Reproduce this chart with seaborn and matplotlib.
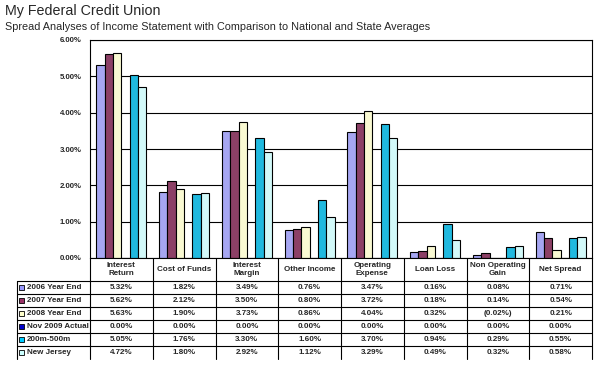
import numpy as np
import pandas as pd
import matplotlib
matplotlib.use('Agg')
import matplotlib.pyplot as plt
from matplotlib.lines import Line2D
from matplotlib.patches import Rectangle
import seaborn as sns

# =============================================================================
# DATA (percent values)
# =============================================================================
categories = ['Interest\nReturn', 'Cost of Funds', 'Interest\nMargin', 'Other Income',
              'Operating\nExpense', 'Loan Loss', 'Non Operating\nGain', 'Net Spread']
series_names = ['2006 Year End', '2007 Year End', '2008 Year End',
                'Nov 2009 Actual', '200m-500m', 'New Jersey']
year_2006 = [5.32, 1.82, 3.49, 0.76, 3.47, 0.16, 0.08, 0.71]
year_2007 = [5.62, 2.12, 3.50, 0.80, 3.72, 0.18, 0.14, 0.54]
year_2008 = [5.63, 1.90, 3.73, 0.86, 4.04, 0.32, -0.02, 0.21]
nov_2009 = [0.00, 0.00, 0.00, 0.00, 0.00, 0.00, 0.00, 0.00]
peer_200m_500m = [5.05, 1.76, 3.30, 1.60, 3.70, 0.94, 0.29, 0.55]
new_jersey = [4.72, 1.80, 2.92, 1.12, 3.29, 0.49, 0.32, 0.58]
series_colors = ['#9999FF', '#993366', '#FFFFCC', '#0000CC', '#00CCFF', '#CCFFFF']

all_series = [year_2006, year_2007, year_2008, nov_2009, peer_200m_500m, new_jersey]
df = pd.DataFrame([
    {'Category': cat, 'Series': name, 'Value': val}
    for name, values in zip(series_names, all_series)
    for cat, val in zip(categories, values)
])

# =============================================================================
# FIGURE
# =============================================================================
sns.set_style('white')
plt.rcParams['font.family'] = ['Liberation Sans', 'DejaVu Sans']

W, H = 602, 370
fig = plt.figure(figsize=(W / 100, H / 100), dpi=100)
ax_left, ax_right, ax_top, ax_bottom = 90, 592, 40, 258
ax = fig.add_axes([ax_left / W, 1 - ax_bottom / H, (ax_right - ax_left) / W,
                   (ax_bottom - ax_top) / H])

sns.barplot(data=df, x='Category', y='Value', hue='Series', order=categories,
            hue_order=series_names, palette=series_colors, edgecolor='black',
            linewidth=0.8, width=0.8, ax=ax, legend=False)

ax.set_xlim(-0.5, len(categories) - 0.5)
ax.set_ylim(0, 6)
ax.set_yticks(np.arange(0, 7))
ax.set_yticklabels([f'{v:.2f}%' for v in range(7)], fontsize=5.6, fontweight='bold')
ax.tick_params(axis='y', length=0, pad=6)
ax.set_xticks([])
ax.set_xlabel('')
ax.set_ylabel('')
ax.yaxis.grid(True, color='black', linewidth=0.8)
ax.set_axisbelow(True)
for sp in ax.spines.values():
    sp.set_color('black')
    sp.set_linewidth(0.8)

# =============================================================================
# DATA TABLE BELOW THE CHART
# =============================================================================
ax_h = ax_bottom - ax_top
ax_w = ax_right - ax_left


def ypx(y):
    return (ax_bottom - y) / ax_h


def xpx(x):
    return (x - ax_left) / ax_w


xtrans = ax.get_xaxis_transform()
header_bottom, row_h = 281, 13
table_bottom = header_bottom + row_h * len(series_names)
lw = 0.8

# vertical lines between category columns
for i in range(len(categories) + 1):
    ax.add_line(Line2D([i - 0.5, i - 0.5], [ypx(ax_bottom), ypx(table_bottom)],
                       transform=xtrans, color='black', lw=lw, clip_on=False))
# left border of the row-label column
ax.add_line(Line2D([xpx(17), xpx(17)], [ypx(header_bottom), ypx(table_bottom)],
                   transform=ax.transAxes, color='black', lw=lw, clip_on=False))
# horizontal row lines
for k in range(len(series_names)):
    y = ypx(header_bottom + k * row_h)
    ax.add_line(Line2D([xpx(17), 1], [y, y], transform=ax.transAxes,
                       color='black', lw=lw, clip_on=False))

fs = 5.8
for i, cat in enumerate(categories):
    ax.text(i, ypx((ax_bottom + header_bottom) / 2), cat, transform=xtrans,
            ha='center', va='center', fontsize=fs, fontweight='bold',
            linespacing=1.15, clip_on=False)


def fmt(v):
    return f'({abs(v):.2f}%)' if v < 0 else f'{v:.2f}%'


for k, (name, values, color) in enumerate(zip(series_names, all_series, series_colors)):
    yc = ypx(header_bottom + k * row_h + row_h / 2)
    ax.add_patch(Rectangle((xpx(19), yc - 2.5 / ax_h), 5 / ax_w, 5 / ax_h,
                           transform=ax.transAxes, facecolor=color,
                           edgecolor='black', lw=0.6, clip_on=False))
    ax.text(xpx(27), yc, name, transform=ax.transAxes, ha='left', va='center',
            fontsize=fs, fontweight='bold', clip_on=False)
    for i, v in enumerate(values):
        ax.text(i, yc, fmt(v), transform=xtrans, ha='center', va='center',
                fontsize=fs, fontweight='bold', clip_on=False)

# =============================================================================
# TITLES
# =============================================================================
fig.text(5 / W, 1 - 15 / H, 'My Federal Credit Union', fontsize=10.3, va='baseline')
fig.text(5 / W, 1 - 29.5 / H,
         'Spread Analyses of Income Statement with Comparison to National and State Averages',
         fontsize=7.8, va='baseline')

fig.savefig('out.png', dpi=100)
